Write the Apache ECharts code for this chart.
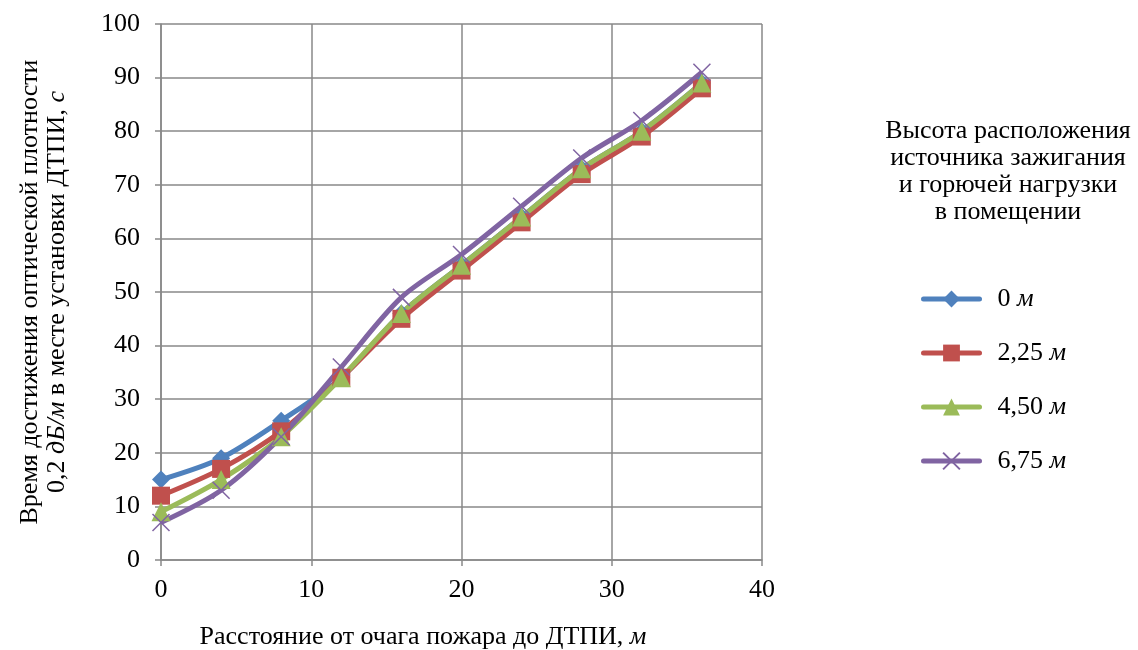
<!DOCTYPE html>
<html>
<head>
<meta charset="utf-8">
<script src="https://cdn.jsdelivr.net/npm/echarts@6/dist/echarts.min.js"></script>
<style>
  html, body { margin: 0; padding: 0; background: #fff; }
</style>
</head>
<body>
<div id="main" style="width: 1138px;height:650px;"></div>
<script>
  // расстояние от очага, м
  var distances = [0, 4, 8, 12, 16, 20, 24, 28, 32, 36];
  var seriesNames = ['0', '2,25', '4,50', '6,75'];
  var h000 = [15, 19, 26, 34, 46, 55, 64, 73, 80, 89];
  var h225 = [12, 17, 24, 34, 45, 54, 63, 72, 79, 88];
  var h450 = [9, 15, 23, 34, 46, 55, 64, 73, 80, 89];
  var h675 = [7, 13, 23, 36, 49, 57, 66, 75, 82, 91];
  var xTicks = [0, 10, 20, 30, 40];
  var yTicks = [0, 10, 20, 30, 40, 50, 60, 70, 80, 90, 100];

  var font = '"Liberation Serif", "Times New Roman", serif';
  var fs = 26;
  var gridColor = '#898989';

  function pairs(arr) {
    return arr.map(function (v, i) { return [distances[i], v]; });
  }

  var myChart = echarts.init(document.getElementById('main'));

  var lineSeries = function (name, data, color, symbol, size, extra) {
    var s = {
      name: name,
      type: 'line',
      data: pairs(data),
      smooth: 0.3,
      symbol: symbol,
      symbolSize: size,
      lineStyle: { color: color, width: 5 },
      itemStyle: { color: color },
      z: 3
    };
    if (extra) Object.assign(s.itemStyle, extra);
    return s;
  };

  var txt = { fontFamily: font, fontSize: fs, color: '#000' };
  var txtI = { fontFamily: font, fontSize: fs, color: '#000', fontStyle: 'italic' };

  var option = {
    animation: false,
    textStyle: { fontFamily: font },
    grid: { left: 161, right: 376, top: 24, bottom: 90, outerBoundsMode: 'none' },
    xAxis: {
      type: 'value',
      min: 0, max: 40, interval: 10,
      name: '{n|Расстояние от очага пожара до ДТПИ, }{i|м}',
      nameLocation: 'middle',
      nameGap: 64,
      nameTextStyle: {
        padding: [0, 77, 0, 0],
        rich: { n: txt, i: txtI }
      },
      axisLine: { lineStyle: { color: gridColor, width: 1.5 } },
      axisTick: { show: true, length: 6, lineStyle: { color: gridColor, width: 1.5 } },
      axisLabel: {
        fontFamily: font, fontSize: fs, color: '#000', margin: 17,
        formatter: function (v) { return xTicks.indexOf(v) >= 0 ? String(v) : ''; }
      },
      splitLine: { show: true, lineStyle: { color: gridColor, width: 1.5 } }
    },
    yAxis: {
      type: 'value',
      min: 0, max: 100, interval: 10,
      name: '{n|Время достижения оптической плотности}\n{n|0,2 }{i|дБ/м}{n| в месте установки ДТПИ, }{i|с}',
      nameLocation: 'middle',
      nameRotate: 90,
      nameGap: 90,
      nameTextStyle: {
        align: 'center',
        lineHeight: 27,
        rich: {
          n: Object.assign({ lineHeight: 27 }, txt),
          i: Object.assign({ lineHeight: 27 }, txtI)
        }
      },
      axisLine: { show: true, lineStyle: { color: gridColor, width: 1.5 } },
      axisTick: { show: true, length: 6, lineStyle: { color: gridColor, width: 1.5 } },
      axisLabel: {
        fontFamily: font, fontSize: fs, color: '#000', margin: 21,
        formatter: function (v) { return yTicks.indexOf(v) >= 0 ? String(v) : ''; }
      },
      splitLine: { show: true, lineStyle: { color: gridColor, width: 1.5 } }
    },
    legend: {
      orient: 'vertical',
      left: 916,
      top: 281,
      itemWidth: 56,
      itemHeight: 21,
      itemGap: 28,
      data: seriesNames,
      lineStyle: { width: 5, cap: 'round' },
      formatter: function (name) { return '{n|' + name + ' }{i|м}'; },
      textStyle: {
        padding: [0, 0, 0, 13],
        rich: { n: txt, i: txtI }
      }
    },
    graphic: [{
      type: 'text',
      x: 1008,
      y: 118,
      style: {
        text: 'Высота расположения\nисточника зажигания\nи горючей нагрузки\nв помещении',
        font: fs + 'px ' + font,
        fill: '#000',
        align: 'center',
        lineHeight: 27
      }
    }],
    series: [
      lineSeries(seriesNames[0], h000, '#4F81BD', 'diamond', 18),
      lineSeries(seriesNames[1], h225, '#C0504D', 'rect', 18),
      lineSeries(seriesNames[2], h450, '#9BBB59', 'triangle', 19),
      lineSeries(seriesNames[3], h675, '#8064A2', 'path://M0,0L10,10M10,0L0,10', 17,
        { borderColor: '#8064A2', borderWidth: 1.5 })
    ]
  };
  myChart.setOption(option);
</script>
</body>
</html>
